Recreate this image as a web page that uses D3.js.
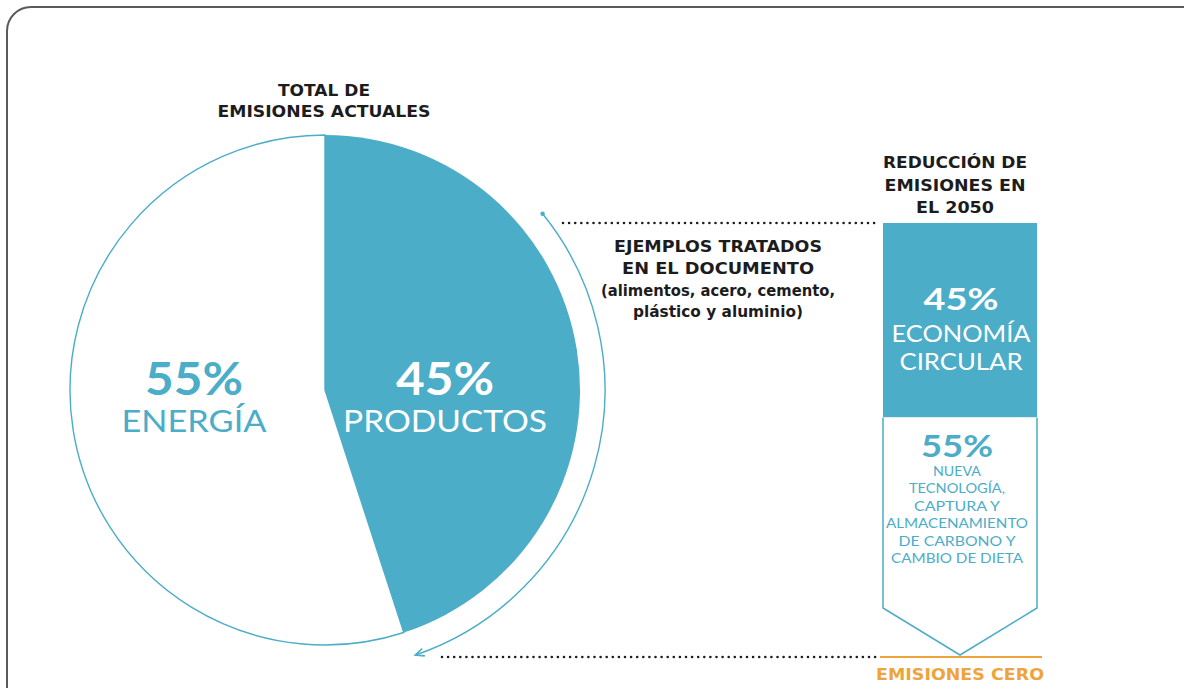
<!DOCTYPE html>
<html>
<head>
<meta charset="utf-8">
<script src="https://cdn.jsdelivr.net/npm/d3@7"></script>
<style>
  html, body { margin: 0; padding: 0; background: #fff; }
  svg { display: block; }
</style>
</head>
<body>
<svg id="chart" width="1184" height="688"></svg>
<script>
// Current emissions split (pie)
const pieCategories = ["PRODUCTOS", "ENERGÍA"];
const pieValues = [45, 55];
const piePctLabels = ["45%", "55%"];

// 2050 reduction split (stacked bar)
const barCategories = ["ECONOMÍA CIRCULAR", "NUEVA TECNOLOGÍA"];
const barValues = [45, 55];
const barPctLabels = ["45%", "55%"];
const barTextLines = [
  ["ECONOMÍA", "CIRCULAR"],
  ["NUEVA", "TECNOLOGÍA,", "CAPTURA Y", "ALMACENAMIENTO", "DE CARBONO Y", "CAMBIO DE DIETA"]
];

const BLUE = "#4badc8";
const ORANGE = "#eea43a";
const DARK = "#1c1c1c";
const BOLD_FONT = "'DejaVu Sans', sans-serif";
const LIGHT_FONT = "'Lato', 'Open Sans', sans-serif";

const svg = d3.select("#chart");

// Rounded frame
svg.append("rect")
  .attr("x", 7).attr("y", 7).attr("width", 1220).attr("height", 720)
  .attr("rx", 24).attr("fill", "none")
  .attr("stroke", "#5a5a5a").attr("stroke-width", 2);

// ---------- Pie ----------
const cx = 325, cy = 390, R = 255;
const pie = d3.pie().sort(null).value(d => d).startAngle(0).endAngle(2 * Math.PI);
const arcs = pie(pieValues);
const arc = d3.arc().innerRadius(0).outerRadius(R);
const gPie = svg.append("g").attr("transform", `translate(${cx},${cy})`);

gPie.selectAll("path.slice").data(arcs).join("path")
  .attr("class", "slice")
  .attr("d", arc)
  .attr("fill", (d, i) => i === 0 ? BLUE : "#fff")
  .attr("stroke", (d, i) => i === 0 ? "none" : BLUE)
  .attr("stroke-width", 1.4);

// Slice labels
const pieLabelPos = [[120, 0], [-131, 0]];
arcs.forEach((d, i) => {
  const [lx] = pieLabelPos[i];
  const col = i === 0 ? "#fff" : BLUE;
  gPie.append("text")
    .attr("x", lx).attr("y", 5)
    .attr("text-anchor", "middle")
    .attr("font-family", LIGHT_FONT).attr("font-weight", 700)
    .attr("font-size", 46).attr("fill", col)
    .attr("textLength", 98).attr("lengthAdjust", "spacingAndGlyphs")
    .text(piePctLabels[i]);
  gPie.append("text")
    .attr("x", lx).attr("y", 42)
    .attr("text-anchor", "middle")
    .attr("font-family", LIGHT_FONT).attr("font-weight", 400)
    .attr("font-size", 30).attr("fill", col)
    .attr("textLength", i === 0 ? 204 : 145).attr("lengthAdjust", "spacingAndGlyphs")
    .text(pieCategories[i]);
});

// Pie title
[["TOTAL DE", 96, 92], ["EMISIONES ACTUALES", 117, 213]].forEach(([t, y, w]) => {
  svg.append("text")
    .attr("x", 324).attr("y", y).attr("text-anchor", "middle")
    .attr("font-family", BOLD_FONT).attr("font-weight", 700)
    .attr("font-size", 15).attr("fill", DARK)
    .attr("textLength", w).attr("lengthAdjust", "spacingAndGlyphs")
    .text(t);
});

// Bracket arc beside the products slice
const defs = svg.append("defs");
defs.append("marker").attr("id", "head")
  .attr("viewBox", "0 0 10 10").attr("refX", 8).attr("refY", 5)
  .attr("markerWidth", 7).attr("markerHeight", 7)
  .attr("orient", "auto-start-reverse")
  .append("path").attr("d", "M0,1 L9,5 L0,9").attr("fill", "none")
  .attr("stroke", BLUE).attr("stroke-width", 1.6);
defs.append("marker").attr("id", "dot")
  .attr("viewBox", "0 0 10 10").attr("refX", 5).attr("refY", 5)
  .attr("markerWidth", 4).attr("markerHeight", 4)
  .append("circle").attr("cx", 5).attr("cy", 5).attr("r", 4).attr("fill", BLUE);

const rBracket = 280;
const toRad = deg => (deg - 90) * Math.PI / 180;
const bp = d3.path();
bp.arc(cx, cy, rBracket, toRad(51), toRad(161), false);
svg.append("path").attr("d", bp.toString())
  .attr("fill", "none").attr("stroke", BLUE).attr("stroke-width", 1.4)
  .attr("marker-start", "url(#dot)").attr("marker-end", "url(#head)");

// Dotted leader lines
const dotted = (x1, x2, y) => svg.append("line")
  .attr("x1", x1).attr("x2", x2).attr("y1", y).attr("y2", y)
  .attr("stroke", DARK).attr("stroke-width", 2.6)
  .attr("stroke-linecap", "round").attr("stroke-dasharray", "0,6.1");
dotted(563, 878, 223);
dotted(442, 878, 657);

// Examples text
const exLines = [
  ["EJEMPLOS TRATADOS", 252, 208],
  ["EN EL DOCUMENTO", 274, 192],
  ["(alimentos, acero, cemento,", 296, 234],
  ["plástico y aluminio)", 317, 170]
];
exLines.forEach(([t, y, w]) => {
  svg.append("text")
    .attr("x", 718).attr("y", y).attr("text-anchor", "middle")
    .attr("font-family", BOLD_FONT).attr("font-weight", 700)
    .attr("font-size", 15).attr("fill", DARK)
    .attr("textLength", w).attr("lengthAdjust", "spacingAndGlyphs")
    .text(t);
});

// ---------- Stacked bar ----------
const bx0 = 883, bx1 = 1037, bmid = (bx0 + bx1) / 2;
const y = d3.scaleLinear().domain([0, 100]).range([223, 655]);
const stack = [];
let acc = 0;
barValues.forEach((v, i) => { stack.push({ i, y0: acc, y1: acc + v }); acc += v; });

const tip = 47;
stack.forEach(s => {
  const top = y(s.y0), bot = y(s.y1);
  if (s.i === 0) {
    svg.append("rect")
      .attr("x", bx0).attr("y", top).attr("width", bx1 - bx0).attr("height", bot - top)
      .attr("fill", BLUE);
  } else {
    const p = d3.path();
    p.moveTo(bx0, top);
    p.lineTo(bx0, bot - tip);
    p.lineTo(bmid, bot);
    p.lineTo(bx1, bot - tip);
    p.lineTo(bx1, top);
    svg.append("path").attr("d", p.toString())
      .attr("fill", "#fff").attr("stroke", BLUE).attr("stroke-width", 1.5);
  }
});

// Bar labels
svg.append("text").attr("x", bmid + 1).attr("y", 310).attr("text-anchor", "middle")
  .attr("font-family", LIGHT_FONT).attr("font-weight", 700).attr("font-size", 31)
  .attr("fill", "#fff").attr("textLength", 75).attr("lengthAdjust", "spacingAndGlyphs")
  .text(barPctLabels[0]);
[[342, 139], [370, 123]].forEach(([yy, w], k) => {
  svg.append("text").attr("x", bmid + 1).attr("y", yy).attr("text-anchor", "middle")
    .attr("font-family", LIGHT_FONT).attr("font-weight", 400).attr("font-size", 24)
    .attr("fill", "#fff").attr("textLength", w).attr("lengthAdjust", "spacingAndGlyphs")
    .text(barTextLines[0][k]);
});
svg.append("text").attr("x", bmid - 3).attr("y", 457).attr("text-anchor", "middle")
  .attr("font-family", LIGHT_FONT).attr("font-weight", 700).attr("font-size", 31)
  .attr("fill", BLUE).attr("textLength", 72).attr("lengthAdjust", "spacingAndGlyphs")
  .text(barPctLabels[1]);
const smallW = [48, 96, 86, 142, 117, 132];
barTextLines[1].forEach((t, k) => {
  svg.append("text").attr("x", bmid - 3).attr("y", 476 + k * 17.4).attr("text-anchor", "middle")
    .attr("font-family", LIGHT_FONT).attr("font-weight", 400).attr("font-size", 13)
    .attr("fill", BLUE).attr("textLength", smallW[k]).attr("lengthAdjust", "spacingAndGlyphs")
    .text(t);
});

// Bar title
[["REDUCCIÓN DE", 168, 144], ["EMISIONES EN", 191, 141], ["EL 2050", 213, 78]].forEach(([t, yy, w]) => {
  svg.append("text").attr("x", 955).attr("y", yy).attr("text-anchor", "middle")
    .attr("font-family", BOLD_FONT).attr("font-weight", 700).attr("font-size", 15)
    .attr("fill", DARK).attr("textLength", w).attr("lengthAdjust", "spacingAndGlyphs")
    .text(t);
});

// Zero-emissions baseline
svg.append("line").attr("x1", 880).attr("x2", 1042).attr("y1", 657).attr("y2", 657)
  .attr("stroke", ORANGE).attr("stroke-width", 2);
svg.append("text").attr("x", 960).attr("y", 680).attr("text-anchor", "middle")
  .attr("font-family", BOLD_FONT).attr("font-weight", 700).attr("font-size", 15)
  .attr("fill", ORANGE).attr("textLength", 168).attr("lengthAdjust", "spacingAndGlyphs")
  .text("EMISIONES CERO");
</script>
</body>
</html>
